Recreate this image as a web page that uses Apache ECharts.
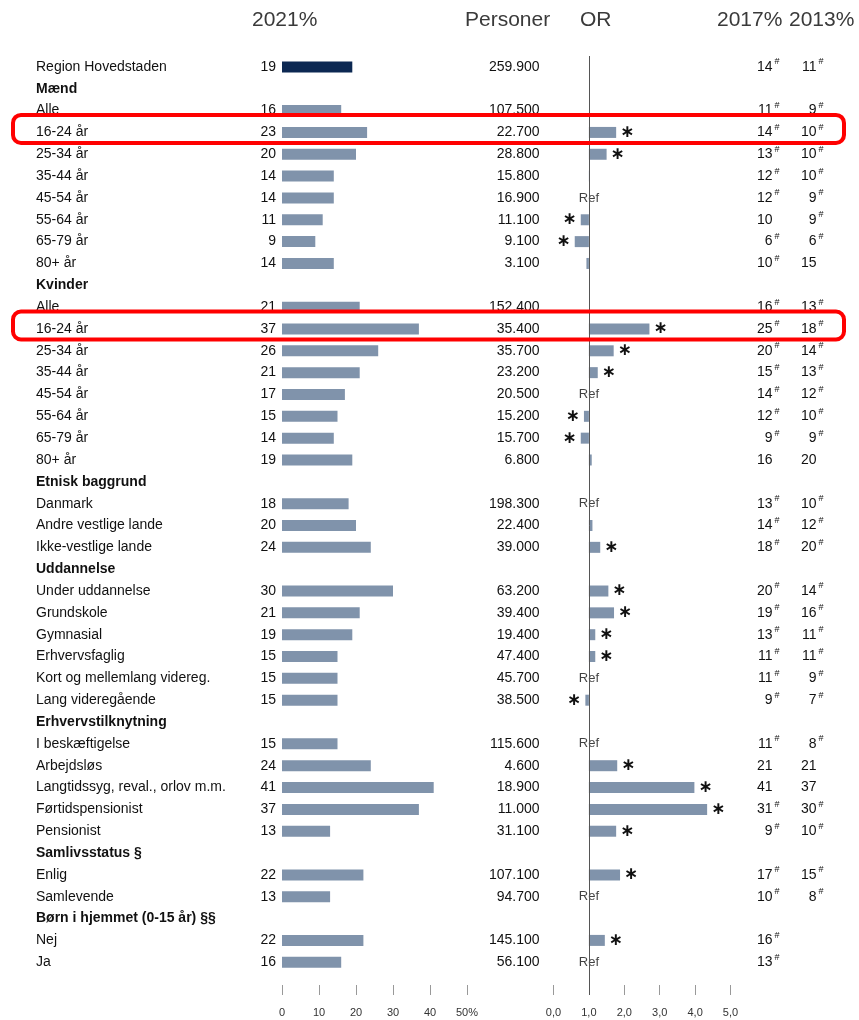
<!DOCTYPE html>
<html>
<head>
<meta charset="utf-8">
<script src="https://cdn.jsdelivr.net/npm/echarts@6/dist/echarts.min.js"></script>
<style>
 html, body { margin: 0; padding: 0; background: #fff; }
 #chart { width: 859px; height: 1020px; }
</style>
</head>
<body>
<div id="chart"></div>
<script type="text/javascript">
	// rækker i tabellen, overskrifter er fede
	var rows = ['Region Hovedstaden', 'Mænd', 'Alle', '16-24 år', '25-34 år', '35-44 år', '45-54 år', '55-64 år', '65-79 år', '80+ år',
		'Kvinder', 'Alle', '16-24 år', '25-34 år', '35-44 år', '45-54 år', '55-64 år', '65-79 år', '80+ år',
		'Etnisk baggrund', 'Danmark', 'Andre vestlige lande', 'Ikke-vestlige lande',
		'Uddannelse', 'Under uddannelse', 'Grundskole', 'Gymnasial', 'Erhvervsfaglig', 'Kort og mellemlang videreg.', 'Lang videregående',
		'Erhvervstilknytning', 'I beskæftigelse', 'Arbejdsløs', 'Langtidssyg, reval., orlov m.m.', 'Førtidspensionist', 'Pensionist',
		'Samlivsstatus §', 'Enlig', 'Samlevende',
		'Børn i hjemmet (0-15 år) §§', 'Nej', 'Ja'];
	var headerRows = [1, 10, 19, 23, 30, 36, 39];

	var pct2021 = [19, null, 16, 23, 20, 14, 14, 11, 9, 14, null, 21, 37, 26, 21, 17, 15, 14, 19,
		null, 18, 20, 24, null, 30, 21, 19, 15, 15, 15, null, 15, 24, 41, 37, 13, null, 22, 13, null, 22, 16];

	var personer = ['259.900', '', '107.500', '22.700', '28.800', '15.800', '16.900', '11.100', '9.100', '3.100',
		'', '152.400', '35.400', '35.700', '23.200', '20.500', '15.200', '15.700', '6.800',
		'', '198.300', '22.400', '39.000', '', '63.200', '39.400', '19.400', '47.400', '45.700', '38.500',
		'', '115.600', '4.600', '18.900', '11.000', '31.100', '', '107.100', '94.700', '', '145.100', '56.100'];

	var orValues = [null, null, null, 1.77, 1.5, 1.02, null, 0.77, 0.6, 0.93, null, null, 2.71, 1.7, 1.25, null, 0.86, 0.77, 1.08,
		null, null, 1.1, 1.32, null, 1.55, 1.71, 1.18, 1.18, null, 0.9, null, null, 1.8, 3.98, 4.34, 1.77,
		null, 1.88, null, null, 1.45, null];
	var orStar = [0, 0, 0, 1, 1, 0, 0, 1, 1, 0, 0, 0, 1, 1, 1, 0, 1, 1, 0,
		0, 0, 0, 1, 0, 1, 1, 1, 1, 0, 1, 0, 0, 1, 1, 1, 1, 0, 1, 0, 0, 1, 0];
	var orRef = [6, 15, 20, 28, 31, 38, 41];

	var pct2017 = [14, null, 11, 14, 13, 12, 12, 10, 6, 10, null, 16, 25, 20, 15, 14, 12, 9, 16,
		null, 13, 14, 18, null, 20, 19, 13, 11, 11, 9, null, 11, 21, 41, 31, 9, null, 17, 10, null, 16, 13];
	var hash2017 = [1, 0, 1, 1, 1, 1, 1, 0, 1, 1, 0, 1, 1, 1, 1, 1, 1, 1, 0,
		0, 1, 1, 1, 0, 1, 1, 1, 1, 1, 1, 0, 1, 0, 0, 1, 1, 0, 1, 1, 0, 1, 1];
	var pct2013 = [11, null, 9, 10, 10, 10, 9, 9, 6, 15, null, 13, 18, 14, 13, 12, 10, 9, 20,
		null, 10, 12, 20, null, 14, 16, 11, 11, 9, 7, null, 8, 21, 37, 30, 10, null, 15, 8, null, null, null];
	var hash2013 = [1, 0, 1, 1, 1, 1, 1, 1, 1, 0, 0, 1, 1, 1, 1, 1, 1, 1, 0,
		0, 1, 1, 1, 0, 1, 1, 1, 1, 1, 1, 0, 1, 0, 0, 1, 1, 0, 1, 1, 0, 0, 0];

	var highlightRows = [3, 12];

	var font = "'Liberation Sans', Arial, sans-serif";
	var barColor = '#8093ab';
	var cats = rows.concat(['']);   // tom række nederst giver plads til akserne

	function hashCell(vals, hashes) {
		return function (v, i) {
			if (vals[i] == null) return '';
			return '{n|' + vals[i] + '}' + (hashes[i] ? '{s|#}' : '{h|#}');
		};
	}
	var hashRich = {
		n: { fontSize: 14, color: '#111', fontFamily: font },
		s: { fontSize: 9, color: '#111', fontFamily: font, padding: [0, 0, 10, 2] },
		h: { fontSize: 9, color: 'rgba(0,0,0,0)', fontFamily: font, padding: [0, 0, 10, 2] }
	};

	var options = {
		animation: false,
		textStyle: { fontFamily: font },
		title: [
			{ text: '2021%', left: 247, top: 5 },
			{ text: 'Personer', left: 460, top: 5 },
			{ text: 'OR', left: 575, top: 5 },
			{ text: '2017%', left: 712, top: 5 },
			{ text: '2013%', left: 784, top: 5 }
		].map(function (t) {
			t.textStyle = { fontSize: 21, fontWeight: 'normal', color: '#3a3a3a', fontFamily: font };
			return t;
		}),
		grid: [
			{ left: 282, width: 185, top: 56, bottom: 25 },
			{ left: 553.5, width: 177, top: 56, bottom: 25 }
		],
		xAxis: [
			{
				gridIndex: 0, type: 'value', min: 0, max: 50, interval: 10,
				axisLine: { show: false }, splitLine: { show: false },
				axisTick: { show: true, inside: true, length: 10, lineStyle: { color: '#999' } },
				axisLabel: { margin: 12, fontSize: 11, color: '#333', formatter: function (v) { return v === 50 ? '50%' : v; } }
			},
			{
				gridIndex: 1, type: 'value', min: 0, max: 5, interval: 1,
				axisLine: { show: false }, splitLine: { show: false },
				axisTick: { show: true, inside: true, length: 10, lineStyle: { color: '#999' } },
				axisLabel: { margin: 12, fontSize: 11, color: '#333', formatter: function (v) { return v.toFixed(1).replace('.', ','); } }
			}
		],
		yAxis: [
			{
				gridIndex: 0, type: 'category', data: cats, inverse: true,
				axisLine: { show: false }, axisTick: { show: false },
				axisLabel: {
					interval: 0, align: 'left', margin: 246, fontSize: 14, color: '#111',
					formatter: function (v, i) { return headerRows.indexOf(i) >= 0 ? '{b|' + v + '}' : v; },
					rich: { b: { fontWeight: 'bold', fontSize: 14, color: '#111', fontFamily: font } }
				}
			},
			{
				gridIndex: 1, type: 'category', data: cats, inverse: true,
				axisLine: { show: false }, axisTick: { show: false },
				axisLabel: {
					interval: 0, align: 'right', margin: 14, fontSize: 14, color: '#111',
					formatter: function (v, i) { return personer[i] || ''; }
				}
			},
			{
				gridIndex: 1, type: 'category', data: cats, inverse: true, position: 'right',
				axisLine: { show: false }, axisTick: { show: false },
				axisLabel: { interval: 0, align: 'right', margin: 49, formatter: hashCell(pct2017, hash2017), rich: hashRich }
			},
			{
				gridIndex: 1, type: 'category', data: cats, inverse: true, position: 'right',
				axisLine: { show: false }, axisTick: { show: false },
				axisLabel: { interval: 0, align: 'right', margin: 93, formatter: hashCell(pct2013, hash2013), rich: hashRich }
			}
		],
		series: [
			{
				name: '2021%', type: 'bar', xAxisIndex: 0, yAxisIndex: 0, barWidth: 11,
				data: pct2021.map(function (v, i) {
					if (v == null) return '-';
					return { value: v, itemStyle: { color: i === 0 ? '#0c2852' : barColor } };
				}),
				label: { show: true, position: 'left', distance: 6, fontSize: 14, color: '#111', formatter: '{c}' }
			},
			{
				name: 'base', type: 'bar', stack: 'or', xAxisIndex: 1, yAxisIndex: 1, barWidth: 11, silent: true,
				itemStyle: { color: 'rgba(0,0,0,0)' },
				data: orValues.map(function (v) { return v == null ? '-' : Math.min(v, 1); }),
				markLine: {
					silent: true, symbol: 'none', label: { show: false },
					lineStyle: { color: '#555', width: 1, type: 'solid' },
					data: [{ xAxis: 1 }]
				}
			},
			{
				name: 'OR', type: 'bar', stack: 'or', xAxisIndex: 1, yAxisIndex: 1, barWidth: 11,
				itemStyle: { color: barColor },
				data: orValues.map(function (v, i) {
					if (v == null) return '-';
					return { value: Math.abs(v - 1), label: { show: !!orStar[i], position: v >= 1 ? 'right' : 'left' } };
				}),
				label: { distance: 4, formatter: '\u2217', fontSize: 17, fontWeight: 'bold', color: '#111', fontFamily: 'DejaVu Sans' }
			},
			{
				name: 'Ref', type: 'scatter', xAxisIndex: 1, yAxisIndex: 1, symbolSize: 1,
				itemStyle: { color: 'rgba(0,0,0,0)' },
				data: orRef.map(function (i) { return [1, i]; }),
				label: { show: true, position: 'inside', formatter: 'Ref', fontSize: 13, color: '#111' }
			}
		]
	};

	var myChart = echarts.init(document.getElementById('chart'));
	myChart.setOption(options);

	// røde markeringer om de to rækker (lidt forskudt opad som i originalen)
	var boxes = highlightRows.map(function (r) {
		var cy = myChart.convertToPixel({ yAxisIndex: 0 }, r);
		return {
			type: 'rect', z: 100, silent: true,
			shape: { x: 13, y: cy - 17.5, width: 831, height: 28, r: 8 },
			style: { fill: 'none', stroke: '#ff0000', lineWidth: 4 }
		};
	});
	myChart.setOption({ graphic: boxes });
</script>
</body>
</html>
